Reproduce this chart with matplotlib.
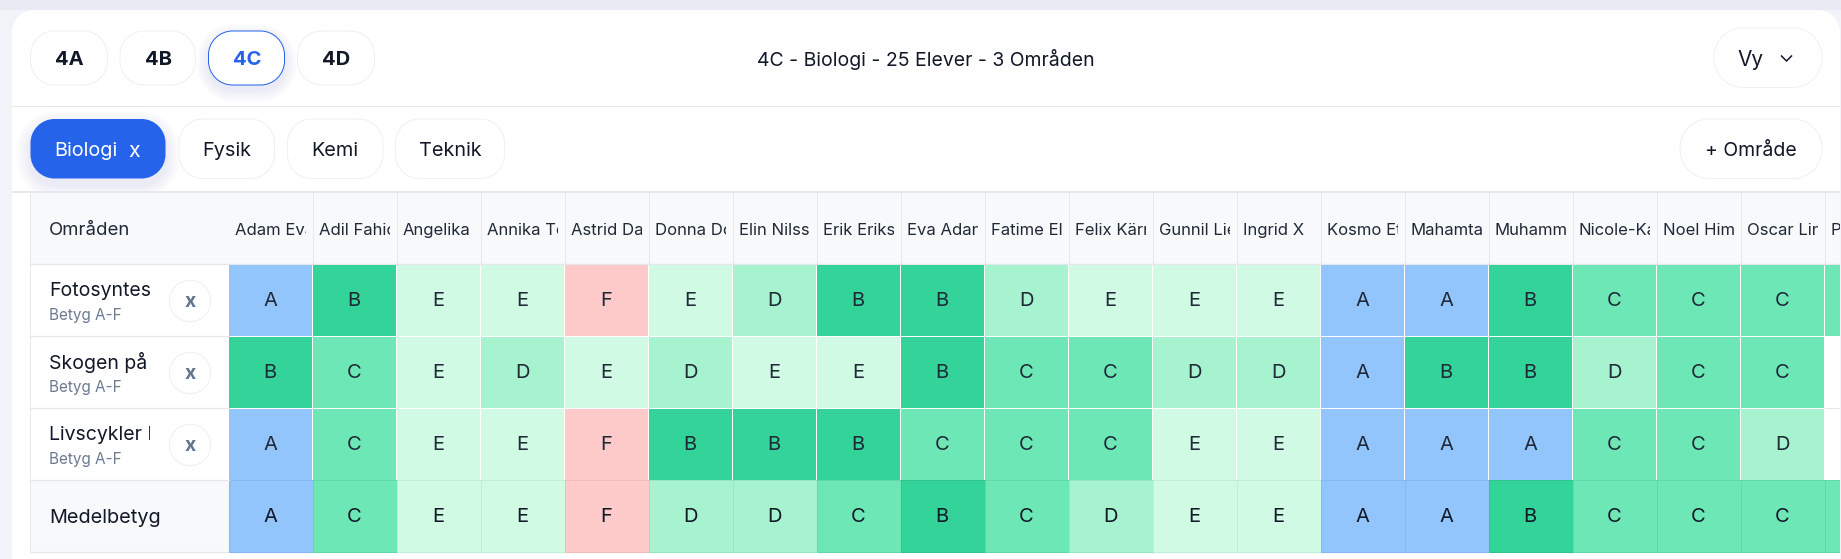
import matplotlib
matplotlib.use("Agg")
import matplotlib.pyplot as plt
from matplotlib.patches import PathPatch, Rectangle, Circle
from matplotlib.path import Path
from matplotlib.lines import Line2D

plt.rcParams['font.family'] = ['Inter', 'DejaVu Sans']

# ---- data ----
classes = ['4A', '4B', '4C', '4D']
subjects = ['Biologi', 'Fysik', 'Kemi', 'Teknik']
title = '4C - Biologi - 25 Elever - 3 Områden'
students = ['Adam Eva', 'Adil Fahic', 'Angelika', 'Annika To', 'Astrid Da', 'Donna Do', 'Elin Nilss',
            'Erik Eriks', 'Eva Adan', 'Fatime El', 'Felix Kärr', 'Gunnil Lie', 'Ingrid X', 'Kosmo Et',
            'Mahamta', 'Muhamm', 'Nicole-Ka', 'Noel Him', 'Oscar Lin', 'P']
areas = ['Fotosyntes', 'Skogen på', 'Livscykler I']
area_sub = 'Betyg A-F'
grades_foto = list('ABEEFEDBBDEEEAABCCC') + ['C']
grades_skog = list('BCEDEDEEBCCDDABBDCC') + ['']
grades_livs = list('ACEEFBBBCCCEEAAACCD') + ['']
grades_mean = list('ACEEFDDCBCDEEAABCCC') + ['C']

# ---- style ----
grade_col = {'A': '#93c5fd', 'B': '#34d399', 'C': '#6ee7b7', 'D': '#a7f3d0', 'E': '#d1fae5',
             'F': '#fecaca', '': '#ffffff'}
grade_edge = {'A': '#85b8f0', 'B': '#2fc48e', 'C': '#62d8aa', 'D': '#97e6c2', 'E': '#bdeed6',
              'F': '#f2bcbc', '': '#ffffff'}
INK = '#111827'
BLUE = '#2563eb'
LINE = '#e5e7eb'
SOFT = '#eff0f3'
HEAD = '#f8f9fb'

W, H = 1841, 559
fig = plt.figure(figsize=(W / 100, H / 100), dpi=100, facecolor='#f1f3f8')
ax = fig.add_axes([0, 0, 1, 1])
ax.set_xlim(0, W)
ax.set_ylim(H, 0)
ax.axis('off')

K = 0.5523


def rbox(x0, y0, x1, y1, r, fc='white', ec='none', lw=0.72, z=2, alpha=None):
    k = r * (1 - K)
    v = [(x0 + r, y0), (x1 - r, y0), (x1 - k, y0), (x1, y0 + k), (x1, y0 + r),
         (x1, y1 - r), (x1, y1 - k), (x1 - k, y1), (x1 - r, y1),
         (x0 + r, y1), (x0 + k, y1), (x0, y1 - k), (x0, y1 - r),
         (x0, y0 + r), (x0, y0 + k), (x0 + k, y0), (x0 + r, y0), (x0 + r, y0)]
    c = [Path.MOVETO, Path.LINETO, Path.CURVE4, Path.CURVE4, Path.CURVE4,
         Path.LINETO, Path.CURVE4, Path.CURVE4, Path.CURVE4,
         Path.LINETO, Path.CURVE4, Path.CURVE4, Path.CURVE4,
         Path.LINETO, Path.CURVE4, Path.CURVE4, Path.CURVE4, Path.CLOSEPOLY]
    p = PathPatch(Path(v, c), fc=fc, ec=ec, lw=lw, zorder=z, alpha=alpha)
    ax.add_patch(p)
    return p


def shadow(x0, y0, x1, y1, r, color, dy=6, n=10, spread=14, a=0.009, z=1.5):
    for i in range(n):
        s = spread * (1 - i / n)
        rbox(x0 - s, y0 - s + dy, x1 + s, y1 + s + dy, r + s, fc=color, z=z, alpha=a)


# page background
ax.add_patch(Rectangle((0, 0), W, 10, fc='#e8ebf3', ec='none', zorder=0))
rbox(12, 10, 1840, 640, 22, z=1)

ax.add_patch(Rectangle((12, 105.5), 1828, 1.3, fc=LINE, ec='none', zorder=1.2))

# class buttons
cls_x = [(30.5, 107.5), (120, 195.5), (208.5, 284.5), (297.5, 374.5)]
for name, (x0, x1) in zip(classes, cls_x):
    active = name == '4C'
    if active:
        shadow(x0, 31, x1, 85, 24, BLUE, dy=5, spread=12, a=0.008)
    rbox(x0, 31, x1, 85, 24, ec=BLUE if active else SOFT, z=2)
    ax.text((x0 + x1) / 2 + 0.5, 60, name, ha='center', va='center', fontsize=14.5, fontweight='bold',
            color=BLUE if active else INK, zorder=3)

ax.text(926, 59.5, title, ha='center', va='center', fontsize=14, color=INK, zorder=3)

# view button
rbox(1714, 28, 1822, 87.5, 29, ec=SOFT, z=2)
ax.text(1750.5, 60, 'Vy', ha='center', va='center', fontsize=15, color=INK, zorder=3)
ax.add_line(Line2D([1781.5, 1786.5, 1791.5], [56, 61, 56], color=INK, lw=1.1, zorder=3))

# subject pills
sub_x = [(30.5, 165.5), (179, 274.5), (287.5, 383), (395.5, 504.5)]
for name, (x0, x1) in zip(subjects, sub_x):
    active = name == 'Biologi'
    if active:
        shadow(x0, 119, x1, 178.5, 24, BLUE, dy=6, spread=14, a=0.009)
        rbox(x0, 119, x1, 178.5, 24, fc=BLUE, z=2)
        ax.text(85.5, 151, name, ha='center', va='center', fontsize=14.3, color='white', zorder=3)
        ax.text(134.5, 151, 'x', ha='center', va='center', fontsize=15.5, color='white', zorder=3)
    else:
        rbox(x0, 119, x1, 178.5, 24, ec=SOFT, z=2)
        ax.text((x0 + x1) / 2, 151, name, ha='center', va='center', fontsize=14.3, color=INK, zorder=3)

rbox(1680, 119, 1822, 178.5, 29, ec=SOFT, z=2)
ax.text(1751, 151, '+ Område', ha='center', va='center', fontsize=14, color=INK, zorder=3)

# table
T_LEFT, T_RIGHT = 30.5, 1840
COL0, COLW = 228.6, 84.0
HDR_TOP, HDR_BOT = 192.5, 264.3
ROWH = 72.0
grade_rows = [grades_foto, grades_skog, grades_livs, grades_mean]

ax.add_patch(Rectangle((12, 190.7), 1828, 2.0, fc='#e6e8ee', ec='none', zorder=1.8))
ax.add_patch(Rectangle((T_LEFT, HDR_TOP), T_RIGHT - T_LEFT, HDR_BOT - HDR_TOP, fc=HEAD, ec='none', zorder=1.9))
ax.add_patch(Rectangle((T_LEFT, HDR_BOT + 3 * ROWH), T_RIGHT - T_LEFT, ROWH, fc=HEAD, ec='none', zorder=1.5))
ax.add_line(Line2D([T_LEFT, T_LEFT], [HDR_TOP, HDR_BOT + 4 * ROWH], color=LINE, lw=0.72, zorder=5))
ax.add_line(Line2D([T_LEFT, T_RIGHT], [HDR_BOT, HDR_BOT], color=LINE, lw=1.0, zorder=2))
for r in range(1, 4):
    y = HDR_BOT + r * ROWH
    ax.add_line(Line2D([T_LEFT, COL0], [y, y], color=LINE, lw=0.9, zorder=5))
ax.add_line(Line2D([T_LEFT, T_RIGHT], [HDR_BOT + 4 * ROWH] * 2, color=LINE, lw=0.9, zorder=2))

ax.text(49, 230.5, 'Områden', ha='left', va='center', fontsize=13.4, color='#1f2937', zorder=3)

for c, name in enumerate(students):
    x = COL0 + c * COLW
    ax.add_line(Line2D([x + COLW, x + COLW], [HDR_TOP, HDR_BOT], color=LINE, lw=0.72, zorder=4))
    clip = Rectangle((x, HDR_TOP), COLW - 7, HDR_BOT - HDR_TOP, transform=ax.transData)
    t = ax.text(x + 6.3, 230.5, name, ha='left', va='center', fontsize=12, color='#1f2937',
                zorder=3, clip_on=True)
    t.set_clip_path(clip)

for r, label in enumerate(areas):
    yc = HDR_BOT + (r + 0.5) * ROWH
    clip = Rectangle((40, yc - 30), 110.5, 60, transform=ax.transData)
    t = ax.text(49, yc - 9.5, label, ha='left', va='center', fontsize=14, color=INK, zorder=3, clip_on=True)
    t.set_clip_path(clip)
    ax.text(49.5, yc + 15.5, area_sub, ha='left', va='center', fontsize=11, color='#6b7b93', zorder=3)
    ax.add_patch(Circle((190, yc + 0.7), 20.7, fc='white', ec=SOFT, lw=0.8, zorder=3))
    ax.text(190, yc + 1.5, 'x', ha='center', va='center', fontsize=14, fontweight='bold', color='#64748b', zorder=4)

ax.text(49, HDR_BOT + 3.5 * ROWH + 1.5, 'Medelbetyg', ha='left', va='center', fontsize=14.3, color=INK, zorder=3)

for r, row in enumerate(grade_rows):
    y0 = HDR_BOT + r * ROWH
    last = r == len(grade_rows) - 1
    for c, g in enumerate(row):
        x0 = COL0 + c * COLW
        if last:
            ax.add_patch(Rectangle((x0, y0), COLW, ROWH, fc=grade_col[g], ec=grade_edge[g], lw=0.72, zorder=3))
        else:
            ax.add_patch(Rectangle((x0 + 0.4, y0 + 0.4), COLW - 0.9, ROWH - 0.9, fc=grade_col[g], ec='none', zorder=3))
            if g == '':
                ax.add_line(Line2D([x0, x0 + COLW], [y0 + ROWH] * 2, color=LINE, lw=0.72, zorder=3))
        if g and c < len(row) - 1:
            ax.text(x0 + COLW / 2 - 0.5, y0 + ROWH / 2 + 1, g, ha='center', va='center', fontsize=14.5,
                    color=INK if last else '#1f2937', zorder=6)

ax.add_patch(Rectangle((1840, 10), 1, 549, fc='#f1f3f8', ec='none', zorder=7))

fig.savefig('out.png', dpi=100, facecolor=fig.get_facecolor())
